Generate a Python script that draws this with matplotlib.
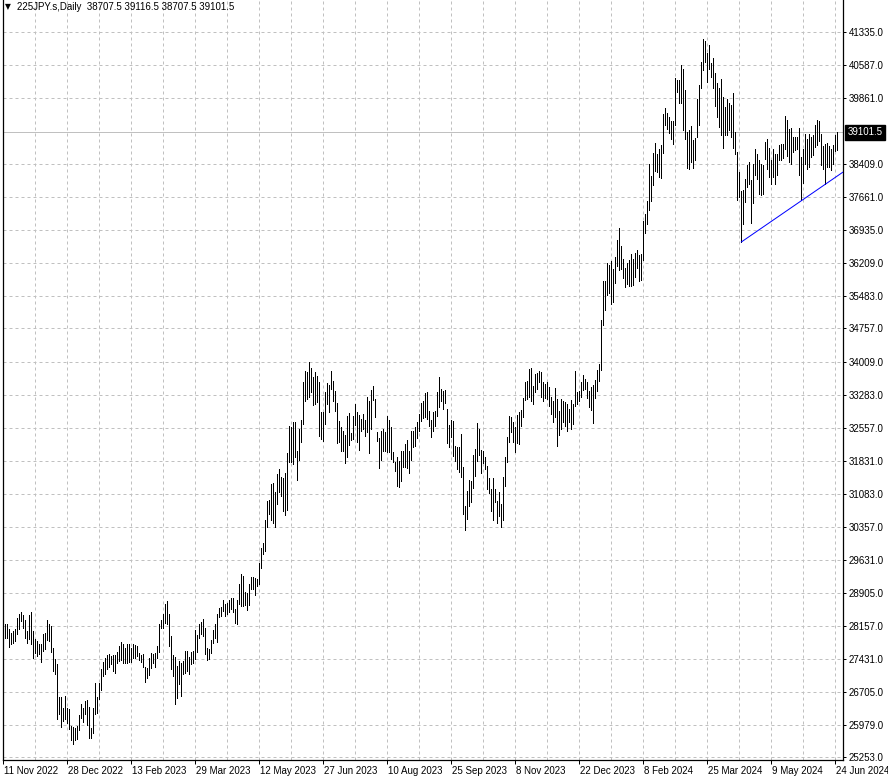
import matplotlib
matplotlib.use("Agg")
import matplotlib.pyplot as plt
import matplotlib.transforms as mtransforms

plt.rcParams['font.family'] = ['Liberation Sans', 'DejaVu Sans']

# ------------------- Data -------------------
symbol = "225JPY.s,Daily"
last_ohlc = [38707.5, 39116.5, 38707.5, 39101.5]

# daily highs / lows, one entry per bar (11 Nov 2022 .. 25 Jun 2024)
highs = [
    28312, 28216, 28216, 28090, 28016, 28053, 28090, 28349, 28423, 28475,
    28401, 28290, 28053, 28401, 28475, 28053, 27868, 27831, 27757, 27757,
    27994, 28016, 28297, 28201, 28164, 27683, 27424, 27313, 26588, 26588,
    26351, 26610, 26336, 26314, 25944, 25929, 25907, 25944, 26181, 26425,
    26336, 26499, 26521, 26366, 25907, 26351, 26906, 26595, 26906, 27202,
    27365, 27446, 27513, 27550, 27498, 27513, 27520, 27594, 27720, 27816,
    27757, 27683, 27772, 27757, 27683, 27772, 27735, 27720, 27572, 27520,
    27535, 27261, 27224, 27461,
    27557, 27535, 27557, 27720, 28216, 28297,
    28438, 28645, 28719, 28438, 27942, 27520, 27476, 27276, 27387, 27350,
    27387, 27609, 27609, 27476, 27594, 27609, 28075, 27964, 28216, 28260,
    28312, 28112, 27683, 27646, 27853, 28068, 28201, 28423, 28571, 28593,
    28734, 28660, 28682, 28734, 28793, 28793, 28534, 28734, 29089, 29326,
    29274, 28926, 28904, 29089, 29252, 29252, 29222, 29200, 29570, 29888,
    29992, 30510, 30939, 30954, 31309, 31331, 31124, 31531, 31642, 31457,
    31435, 31546, 31990, 32600,
    32567, 32693, 32693, 32049, 32530, 32730,
    33581, 33825, 33803, 34010, 33877, 33677, 33803, 33714, 33566, 32915,
    32900, 33359, 33544, 33514, 33825, 33603, 33366, 33100, 32715, 32567,
    32493, 32397, 32826, 32878, 32434, 32826, 33085, 32900, 32848, 32752,
    32863, 32730, 33233, 33159, 33396, 33492, 33196, 32456, 32330, 32493,
    32530, 32456, 32826, 32730, 32567, 32012, 31790, 31901, 31827, 32049,
    32049, 32197, 32286, 32049, 32493, 32478, 32567, 32693, 32863, 33100,
    33159, 33322, 33344, 32937, 32730, 32900, 32937,
    33344, 33677, 33418,
    33381, 33396, 32974, 32626, 32730, 32700, 32160, 32123, 32123, 32419,
    31679, 30828, 31161, 31398, 31383, 31960, 32086, 32656, 32530, 32064,
    32049, 31901, 31716, 31442, 31198, 31442, 31198, 30939, 31124, 30865,
    31472, 31916, 32360, 32826, 32804, 32678, 32567, 32848, 32900, 32952,
    33218, 33566, 33603, 33862, 33884, 33492, 33751, 33766, 33825, 33788,
    33566, 33529, 33566, 33455, 33233, 33159, 33440, 33196, 32937, 33196,
    33144, 33122, 33085, 32974, 33174, 33085, 33825, 33344, 33381, 33566,
    33736, 33640, 33566, 33381, 33455, 33514, 33618, 33840, 33973,
    34950,
    35808, 35808, 36208, 36156, 36252, 36082, 36341, 36726, 36992, 36578,
    36304, 36104, 36208, 36267, 36400, 36304, 36430, 36504, 36378, 36400,
    37140, 37303, 37584, 38413, 38132, 38650, 38872, 38620, 38746, 38820,
    39508, 39634, 39538, 39434, 39360, 39360, 40300, 40263, 40263, 40596,
    40500, 40041, 39116, 39153, 39242, 38931, 38990, 39834, 40152, 40670,
    41166, 41136, 40870, 41040, 40633, 40744, 40426, 40189, 40078,
    40278,
    39878, 39671, 39834, 39745, 39708, 39982, 39116, 38672, 38228, 37806,
    37821, 38080, 38376, 38450, 38043, 38398, 38746, 38635, 38502, 38398,
    38376, 38894, 38968, 38768, 38487, 38746, 38635, 38635, 38820, 38857,
    38842, 39464, 39375, 39168, 39212, 39005, 39005, 39005, 39190, 38561,
    38746, 39079, 38968, 39079, 39005, 39042, 39264, 39375, 39360, 39079,
    38798, 38842, 38872, 38798, 38746, 38820, 39042, 39116.5,
]

lows = [
    27942, 27905, 27890, 27705, 27757, 27794, 27831, 27979, 28090, 28275,
    28127, 27905, 27794, 27868, 27757, 27461, 27572, 27498, 27535, 27372,
    27609, 27646, 27846, 27831, 27594, 27165, 27106, 26092, 26203, 25929,
    26055, 26092, 26018, 25870, 25626, 25552, 25626, 25663, 25848, 26114,
    26040, 26218, 25966, 25670, 25685, 25796, 26203, 26240, 26536, 26736,
    27054, 27106, 27202, 27254, 27313, 27165, 27128, 27350, 27387, 27402,
    27350, 27350, 27350, 27365, 27372, 27461, 27461, 27498, 27402, 27372,
    27254, 26928, 27002, 27076,
    27239, 27350, 27254, 27461, 27594, 28127,
    28127, 28238, 28201, 27720, 27202, 27054, 26425, 26573, 26869, 26610,
    27091, 27128, 27165, 27091, 27313, 27350, 27424, 27594, 27890, 27979,
    27942, 27535, 27402, 27424, 27557, 27794, 27890, 27816, 28364, 28386,
    28497, 28386, 28438, 28482, 28534, 28482, 28238, 28216, 28645, 28608,
    28608, 28630, 28512, 28630, 28978, 28978, 28852, 29052, 29089, 29444,
    29755, 29829, 30362, 30643, 30510, 30436, 30362, 30865, 31124, 31050,
    30717, 30628, 30732, 31790,
    31790, 31753, 31916, 31398, 31842, 32234,
    32641, 33159, 33196, 33233, 33344, 33063, 33085, 33137, 32382, 32308,
    32271, 32641, 33085, 32900, 33418, 33159, 32937, 32212, 32234, 32049,
    32034, 31768, 31916, 32182, 32286, 32308, 32626, 32234, 32064, 32493,
    32530, 32382, 32456, 31990, 32530, 33174, 32789, 32256, 31664, 31842,
    32049, 32034, 32012, 32012, 31864, 31790, 31605, 31272, 31235, 31383,
    31679, 31679, 31664, 31546, 31842, 32123, 32160, 32330, 32493, 32700,
    32774, 32804, 32752, 32604, 32360, 32493, 32604,
    32826, 33011, 33159,
    32974, 33100, 32212, 32138, 32360, 31938, 31827, 31642, 31568, 31457,
    30643, 30288, 30532, 30828, 30902, 31220, 31494, 31812, 31960, 31546,
    31768, 31642, 31198, 31102, 30717, 30510, 30902, 30436, 30606, 30347,
    30510, 31272, 31790, 32234, 32456, 32234, 32012, 32212, 32197, 32604,
    32804, 33174, 33196, 33233, 33159, 33085, 33344, 33418, 33566, 33233,
    33159, 33218, 33196, 33048, 32863, 32678, 32789, 32160, 32404, 32530,
    32678, 32604, 32493, 32678, 32530, 32641, 33048, 33085, 33159, 33233,
    33396, 33418, 33218, 33026, 32952, 32656, 33218, 33381, 33603,
    33840,
    34824, 35157, 35490, 35542, 35290, 35342, 35764, 36134, 36045, 36082,
    35882, 35675, 35749, 35690, 35690, 35712, 35897, 36104, 35808, 35823,
    36282, 36874, 37066, 37392, 37584, 37932, 38250, 38228, 38117, 38102,
    38650, 39264, 39168, 39094, 38968, 38857, 39264, 40004, 39760, 39745,
    39153, 38968, 38324, 38302, 38450, 38324, 38502, 39005, 39264, 40078,
    40485, 40670, 40226, 40500, 40337, 40078, 39686, 39434, 39227,
    39042,
    38768, 39042, 39042, 39153, 39005, 38768, 38635, 37614, 37673, 36674,
    37066, 37562, 37895, 37969, 37096, 37540, 38154, 38080, 37747, 37710,
    37747, 38524, 38302, 38117, 37954, 38117, 37954, 38154, 38487, 38487,
    38546, 38746, 38576, 38450, 38398, 38672, 38709, 38746, 38154, 37599,
    37984, 38398, 38302, 38339, 38561, 38598, 38783, 38820, 38916, 38376,
    38302, 37954, 38339, 38339, 38280, 38413, 38694, 38707.5,
]

date_labels = ["11 Nov 2022", "28 Dec 2022", "13 Feb 2023", "29 Mar 2023",
               "12 May 2023", "27 Jun 2023", "10 Aug 2023", "25 Sep 2023",
               "8 Nov 2023", "22 Dec 2023", "8 Feb 2024", "25 Mar 2024",
               "9 May 2024", "24 Jun 2024"]
bars_per_label = 32

price_ticks = [41335, 40587, 39861, 38409, 37661, 36935, 36209, 35483, 34757,
               34009, 33283, 32557, 31831, 31083, 30357, 29631, 28905, 28157,
               27431, 26705, 25979, 25253]

# trendline drawn through two swing lows (bar index, price)
trend_a = (369, 36674)
trend_b = (411, 37954)

# ------------------- Figure -------------------
W, H, DPI = 888, 781, 100
fig = plt.figure(figsize=(W / DPI, H / DPI), dpi=DPI, facecolor='white')
ax = fig.add_axes([2.7 / W, 21 / H, 840 / W, 760 / H])
ax.set_facecolor('white')

n = len(highs)
xs = list(range(n))
ax.set_xlim(-0.3, 419.7)
ax.set_ylim(25193, 42038)

grid_kw = dict(color='#c0c0c0', linewidth=0.72, dashes=(3, 3), zorder=0)
for p in price_ticks:
    ax.axhline(p, **grid_kw)
for gx in range(0, n, bars_per_label // 2):
    ax.axvline(gx, **grid_kw)

# current price line
last_close = last_ohlc[3]
ax.axhline(last_close, color='#c0c0c0', linewidth=0.72, zorder=1)

# bars (at this zoom MT4 shows only the high-low range)
ax.vlines(xs, lows, highs, colors='black', linewidth=0.72,
          antialiased=False, zorder=3)

# trendline, extended to the right edge
slope = (trend_b[1] - trend_a[1]) / (trend_b[0] - trend_a[0])
x_end = ax.get_xlim()[1]
ax.plot([trend_a[0], x_end], [trend_a[1], trend_a[1] + slope * (x_end - trend_a[0])],
        color='#0000ff', linewidth=0.72, zorder=4, clip_on=True)

# ------------------- Axes -------------------
for side in ['top']:
    ax.spines[side].set_visible(False)
for side in ['left', 'bottom', 'right']:
    ax.spines[side].set_color('black')
    ax.spines[side].set_linewidth(0.9)

ax.yaxis.tick_right()
ax.set_yticks(price_ticks, [f"{p:.1f}" for p in price_ticks])
ax.tick_params(axis='y', length=2.5, width=0.72, pad=2, labelsize=7,
               colors='black', direction='out')

date_pos = [i * bars_per_label for i in range(len(date_labels))]
ax.set_xticks(date_pos, date_labels)
ax.tick_params(axis='x', length=3, width=0.72, pad=1.5, labelsize=7,
               colors='black', direction='out')
shift = mtransforms.ScaledTranslation(1 / DPI, 0, fig.dpi_scale_trans)
for lbl in ax.get_xticklabels():
    lbl.set_horizontalalignment('left')
    lbl.set_transform(lbl.get_transform() + shift)

# current price tag
tag_tr = mtransforms.blended_transform_factory(ax.transAxes, ax.transData)
tag_tr = tag_tr + mtransforms.ScaledTranslation(5 / DPI, 0, fig.dpi_scale_trans)
ax.text(1.0, last_close, f"{last_close:.1f}", transform=tag_tr, fontsize=7,
        color='white', ha='left', va='center', zorder=10, clip_on=False,
        bbox=dict(boxstyle='square,pad=0.28', fc='black', ec='black'))

# header
fig.text(5 / W, 1 - 7 / H, "\u25bc", fontsize=5.5, family=['DejaVu Sans'],
         va='center', ha='left')
fig.text(17 / W, 1 - 7 / H,
         f"{symbol}  " + " ".join(f"{v:.1f}" for v in last_ohlc),
         fontsize=7, va='center', ha='left')

fig.savefig("out.png", dpi=DPI, facecolor='white')
